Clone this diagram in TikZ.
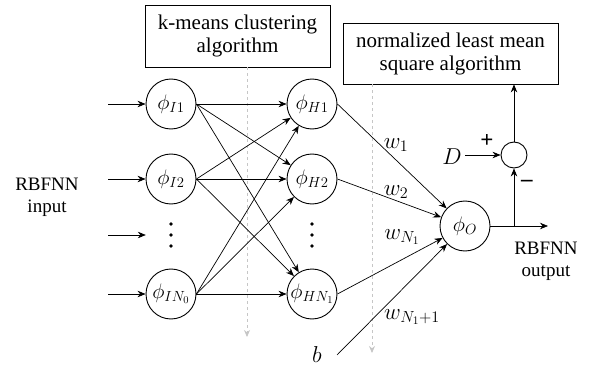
\RequirePackage{fix-cm}
\documentclass[tikz,border=0pt]{standalone}
\usepackage{fontspec}
\setmainfont{Liberation Serif}
\usetikzlibrary{arrows.meta,positioning,calc}

\begin{document}
\begin{tikzpicture}[x=1pt, y=-1pt, font=\fontsize{19}{22}\selectfont,
    neuron/.style={draw, circle, line width=0.9pt, minimum size=50pt, inner sep=0pt, font=\fontsize{21}{24}\selectfont},
    skip/.style={minimum width=50pt, minimum height=30pt, inner sep=0pt},
    algbox/.style={draw, line width=0.8pt, align=center, font=\fontsize{21}{23}\selectfont},
    conn/.style={-{Stealth[length=8pt, width=6.5pt]}, line width=0.7pt},
    guide/.style={-{Stealth[length=7pt, width=6pt]}, gray!45, dashed, line width=0.8pt},
    mlabel/.style={font=\fontsize{23}{26}\selectfont}]
    \useasboundingbox (0,0) rectangle (590,369);

    % Algorithm boxes
    \node[algbox, minimum width=185pt, minimum height=62pt] (kmeans) at (237.5,36) {k-means clustering\\algorithm};
    \node[algbox, minimum width=215pt, minimum height=61pt] (nlms) at (450.5,53.5) {normalized least mean\\square algorithm};

    % Update paths of the two algorithms
    \coordinate (g1) at (247,337);
    \coordinate (g2) at (372,353);
    \draw[guide] (kmeans.south -| g1) -- (g1);
    \draw[guide] (nlms.south -| g2) -- (g2);

    % Input layer
    \node[neuron] (I1) at (171,104) {$\phi_{I1}$};
    \node[neuron] (I2) at (171,179) {$\phi_{I2}$};
    \node[skip] (Id) at (171,235) {};
    \node[neuron] (IN) at (171,294) {$\phi_{IN_0}$};
    \node[align=center] (inlbl) at (47,197) {RBFNN\\input};

    % Hidden layer
    \node[neuron] (H1) at (312,104) {$\phi_{H1}$};
    \node[neuron] (H2) at (312,179) {$\phi_{H2}$};
    \node[skip] (Hd) at (312,235) {};
    \node[neuron] (HN) at (312,294) {$\phi_{HN_1}$};

    % Skipped neurons
    \foreach \n in {Id,Hd}
        \foreach \d in {-11,0,11}
            \fill ($(\n)+(0,\d)$) circle (1.9pt);

    % Output neuron and error junction
    \node[neuron] (O) at (465,226) {$\phi_O$};
    \node[draw, circle, line width=0.9pt, minimum size=26pt, inner sep=0pt] (sum) at (514,155) {};
    \node[mlabel] (D) at (452,157) {$D$};
    \node[mlabel] (plus) at (487,141) {\textbf{+}};
    \node[mlabel] (minus) at (527,183) {\textbf{–}};
    \node[mlabel] (b) at (317,355) {$b$};
    \coordinate (bstart) at (337,355);
    \coordinate (outend) at (548,226);
    \node[align=center] (outlbl) at (546,261) {RBFNN\\output};

    % Inputs
    \coordinate (inx) at (108,0);
    \foreach \n in {I1,I2,Id,IN}
        \draw[conn] (\n.center -| inx) -- (\n);

    % Input to hidden
    \foreach \s in {I1,I2,IN}
        \foreach \t in {H1,H2,HN}
            \draw[conn] (\s.east) -- (\t);

    % Hidden to output
    \foreach \s in {H1,H2,HN}
        \draw[conn] (\s.east) -- (O);
    \draw[conn] (bstart) -- (O);
    \node[mlabel] (w1) at (396,145) {$w_1$};
    \node[mlabel] (w2) at (396,192) {$w_2$};
    \node[mlabel] (wN) at (402,237) {$w_{N_1}$};
    \node[mlabel] (wb) at (412,317) {$w_{N_1+1}$};

    % Output and error
    \draw[conn] (O.east) -- (outend);
    \draw[conn] (O.east -| sum) -- (sum);
    \draw[conn] (D.east |- sum) -- (sum);
    \draw[conn] (sum) -- (sum |- nlms.south);
\end{tikzpicture}
\end{document}
